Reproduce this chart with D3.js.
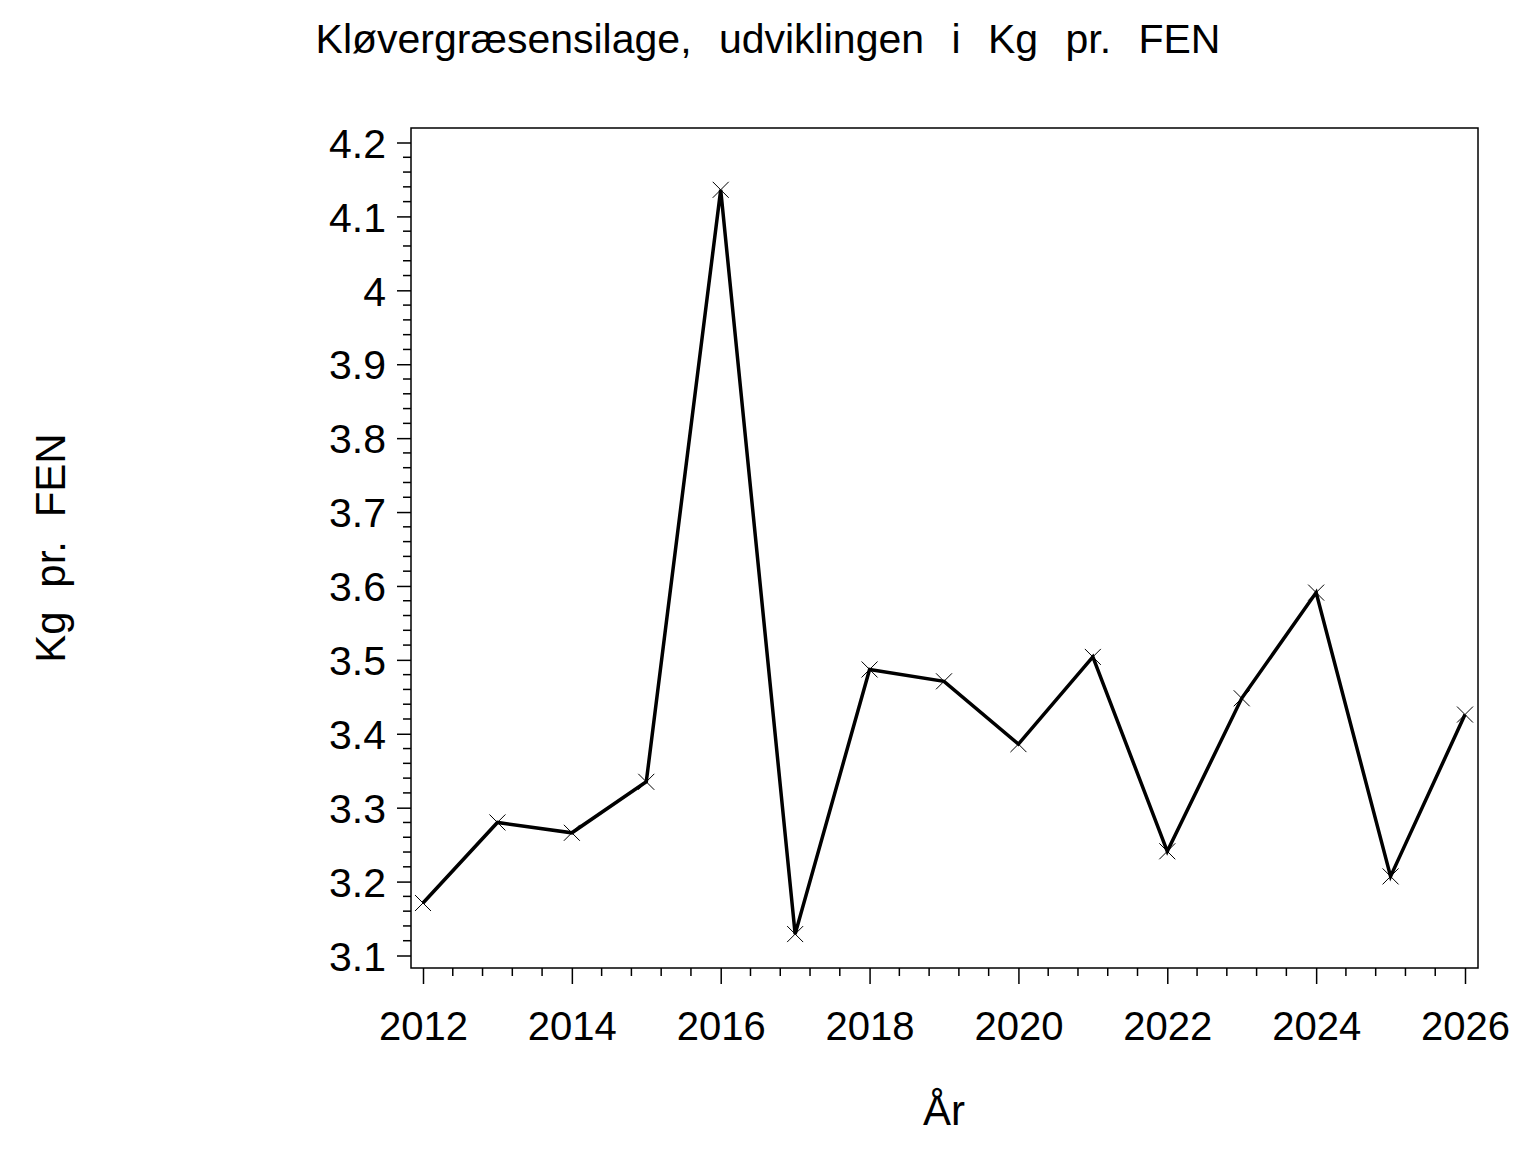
<!DOCTYPE html>
<html lang="da">
<head>
    <meta charset="UTF-8">
    <title>Kløvergræsensilage, udviklingen i Kg pr. FEN</title>
    <script src="https://d3js.org/d3.v7.min.js"></script>
    <style>
        body {
            margin: 0;
            padding: 0;
            background: #fff;
        }
        svg text {
            font-family: "Liberation Sans", Arial, sans-serif;
            fill: #000;
        }
    </style>
</head>
<body>
    <script>
        // data
        const years = [2012, 2013, 2014, 2015, 2016, 2017, 2018, 2019, 2020, 2021, 2022, 2023, 2024, 2025, 2026];
        const kgPrFen = [3.171, 3.280, 3.266, 3.335, 4.136, 3.129, 3.487, 3.471, 3.386, 3.504, 3.241, 3.448, 3.591, 3.207, 3.426];
        const yTicks = [3.1, 3.2, 3.3, 3.4, 3.5, 3.6, 3.7, 3.8, 3.9, 4, 4.1, 4.2];
        const xTicks = [2012, 2014, 2016, 2018, 2020, 2022, 2024, 2026];

        const width = 1536;
        const height = 1152;
        const frame = { left: 411, right: 1478, top: 128, bottom: 968 };

        const svg = d3.select("body")
            .append("svg")
            .attr("width", width)
            .attr("height", height);

        const x = d3.scaleLinear()
            .domain([2012, 2026])
            .range([423, 1465]);

        const y = d3.scaleLinear()
            .domain([3.1, 4.2])
            .range([955.5, 142.5]);

        // frame
        svg.append("rect")
            .attr("x", frame.left)
            .attr("y", frame.top)
            .attr("width", frame.right - frame.left)
            .attr("height", frame.bottom - frame.top)
            .attr("fill", "none")
            .attr("stroke", "#000")
            .attr("stroke-width", 1.5);

        // y axis: major + minor ticks
        const yAxis = svg.append("g")
            .attr("transform", `translate(${frame.left},0)`)
            .call(d3.axisLeft(y)
                .tickValues(yTicks)
                .tickFormat(d3.format("~g"))
                .tickSize(14)
                .tickPadding(11));
        yAxis.select(".domain").remove();
        yAxis.selectAll("line").attr("stroke-width", 1.5);
        yAxis.selectAll("text")
            .attr("font-size", 41)
            .attr("font-family", "Liberation Sans, Arial, sans-serif")
            .attr("dy", "0.36em");

        const yMinor = d3.range(0, 56).map(i => 3.1 + i * 0.02)
            .filter(v => Math.abs(Math.round(v * 10) - v * 10) > 1e-6);
        svg.append("g").selectAll("line")
            .data(yMinor)
            .enter()
            .append("line")
            .attr("x1", frame.left - 8)
            .attr("x2", frame.left)
            .attr("y1", d => y(d))
            .attr("y2", d => y(d))
            .attr("stroke", "#000")
            .attr("stroke-width", 1.5);

        // x axis: major + minor ticks
        const xAxis = svg.append("g")
            .attr("transform", `translate(0,${frame.bottom})`)
            .call(d3.axisBottom(x)
                .tickValues(xTicks)
                .tickFormat(d3.format("d"))
                .tickSize(16)
                .tickPadding(28));
        xAxis.select(".domain").remove();
        xAxis.selectAll("line").attr("stroke-width", 1.5);
        xAxis.selectAll("text")
            .attr("font-size", 40)
            .attr("font-family", "Liberation Sans, Arial, sans-serif");

        const xMinor = d3.range(0, 36).map(i => 2012 + i * 0.4)
            .filter(v => v <= 2026.001 && Math.abs(v / 2 - Math.round(v / 2)) > 1e-6);
        svg.append("g").selectAll("line")
            .data(xMinor)
            .enter()
            .append("line")
            .attr("x1", d => x(d))
            .attr("x2", d => x(d))
            .attr("y1", frame.bottom)
            .attr("y2", frame.bottom + 8)
            .attr("stroke", "#000")
            .attr("stroke-width", 1.5);

        // line
        const points = years.map((yr, i) => ({ year: yr, value: kgPrFen[i] }));

        svg.append("path")
            .datum(points)
            .attr("fill", "none")
            .attr("stroke", "#000")
            .attr("stroke-width", 3.5)
            .attr("stroke-linejoin", "miter")
            .attr("d", d3.line()
                .x(d => x(d.year))
                .y(d => y(d.value)));

        // x markers
        const m = 8;
        svg.append("g").selectAll("path")
            .data(points)
            .enter()
            .append("path")
            .attr("d", d => {
                const cx = x(d.year), cy = y(d.value);
                return `M${cx - m},${cy - m}L${cx + m},${cy + m}M${cx - m},${cy + m}L${cx + m},${cy - m}`;
            })
            .attr("stroke", "#000")
            .attr("stroke-width", 1);

        // title
        svg.append("text")
            .attr("x", 768)
            .attr("y", 53)
            .attr("text-anchor", "middle")
            .attr("font-size", 41)
            .attr("word-spacing", 16)
            .text("Kløvergræsensilage, udviklingen i Kg pr. FEN");

        // axis labels
        svg.append("text")
            .attr("transform", "translate(65,548) rotate(-90)")
            .attr("text-anchor", "middle")
            .attr("font-size", 42)
            .attr("word-spacing", 12)
            .text("Kg pr. FEN");

        svg.append("text")
            .attr("x", 944)
            .attr("y", 1125)
            .attr("text-anchor", "middle")
            .attr("font-size", 42)
            .text("År");
    </script>
</body>
</html>
